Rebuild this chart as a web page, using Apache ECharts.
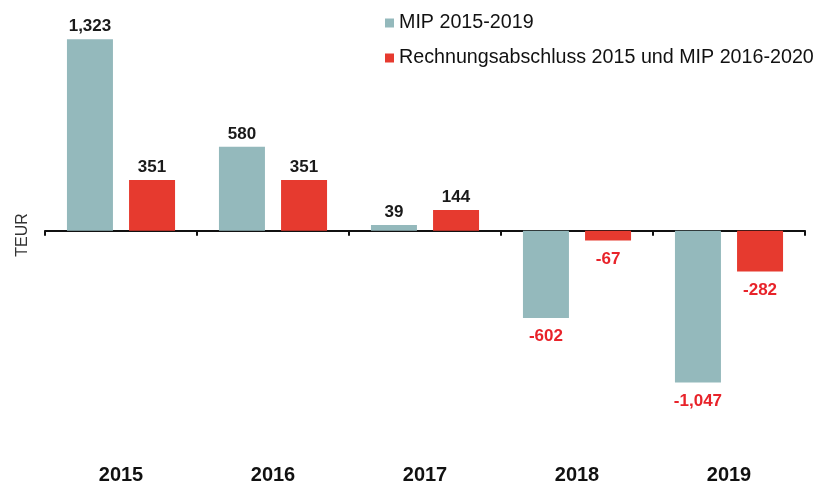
<!DOCTYPE html>
<html>
<head>
<meta charset="utf-8">
<script src="https://cdn.jsdelivr.net/npm/echarts@6/dist/echarts.min.js"></script>
<style>
  html, body { margin: 0; padding: 0; background: #fff; }
  #chart { width: 832px; height: 485px; }
</style>
</head>
<body>
<div id="chart"></div>
<script>
const years = ["2015", "2016", "2017", "2018", "2019"];
const seriesNames = ["MIP 2015-2019", "Rechnungsabschluss 2015 und MIP 2016-2020"];
const mipValues = [1323, 580, 39, -602, -1047];
const rechnungValues = [351, 351, 144, -67, -282];

const FONT = "'Liberation Sans', Arial, sans-serif";
const TEAL = "#94b9bc";
const RED = "#e63a2f";
const NEG_LABEL = "#e8232a";

// positive values get dark labels above, negative ones red labels below
function withLabels(values) {
  return values.map(function(v) {
    return {
      value: v,
      label: {
        position: v >= 0 ? "top" : "bottom",
        distance: v >= 0 ? 4 : 10,
        color: v >= 0 ? "#1a1a1a" : NEG_LABEL
      }
    };
  });
}

const chart = echarts.init(document.getElementById("chart"));
chart.setOption({
  animation: false,
  backgroundColor: "#fff",
  textStyle: { fontFamily: FONT },
  legend: {
    orient: "vertical",
    left: 380,
    top: 8,
    itemWidth: 9,
    itemHeight: 9,
    itemGap: 15,
    icon: "rect",
    textStyle: { fontSize: 19.7, color: "#111", fontFamily: FONT },
    data: seriesNames
  },
  grid: {
    left: 45,
    right: 27,
    top: 28,
    height: 424
  },
  xAxis: [
    {
      type: "category",
      data: years,
      position: "bottom",
      axisLine: { onZero: true, lineStyle: { color: "#111", width: 2 } },
      axisTick: { show: true, length: 5, lineStyle: { color: "#111", width: 2 } },
      axisLabel: { show: false }
    },
    {
      type: "category",
      data: years,
      position: "bottom",
      axisLine: { show: false, onZero: false },
      axisTick: { show: false },
      axisLabel: {
        margin: 17,
        fontSize: 20,
        fontWeight: "bold",
        color: "#111",
        fontFamily: FONT
      }
    }
  ],
  yAxis: {
    type: "value",
    min: -1500,
    max: 1400,
    name: "TEUR",
    nameLocation: "middle",
    nameRotate: 90,
    nameGap: 14,
    nameTextStyle: { fontSize: 16, color: "#333", fontFamily: FONT, padding: [0, 0, 0, 6] },
    axisLine: { show: false },
    axisTick: { show: false },
    axisLabel: { show: false },
    splitLine: { show: false }
  },
  series: [
    {
      name: seriesNames[0],
      type: "bar",
      xAxisIndex: 0,
      barWidth: 46,
      barGap: "35%",
      itemStyle: { color: TEAL },
      label: {
        show: true,
        fontSize: 17,
        fontWeight: "bold",
        fontFamily: FONT,
        formatter: function(p) { return p.value.toLocaleString("en-US"); }
      },
      data: withLabels(mipValues)
    },
    {
      name: seriesNames[1],
      type: "bar",
      xAxisIndex: 0,
      barWidth: 46,
      barGap: "35%",
      itemStyle: { color: RED },
      label: {
        show: true,
        fontSize: 17,
        fontWeight: "bold",
        fontFamily: FONT,
        formatter: function(p) { return p.value.toLocaleString("en-US"); }
      },
      data: withLabels(rechnungValues)
    }
  ]
});
</script>
</body>
</html>
